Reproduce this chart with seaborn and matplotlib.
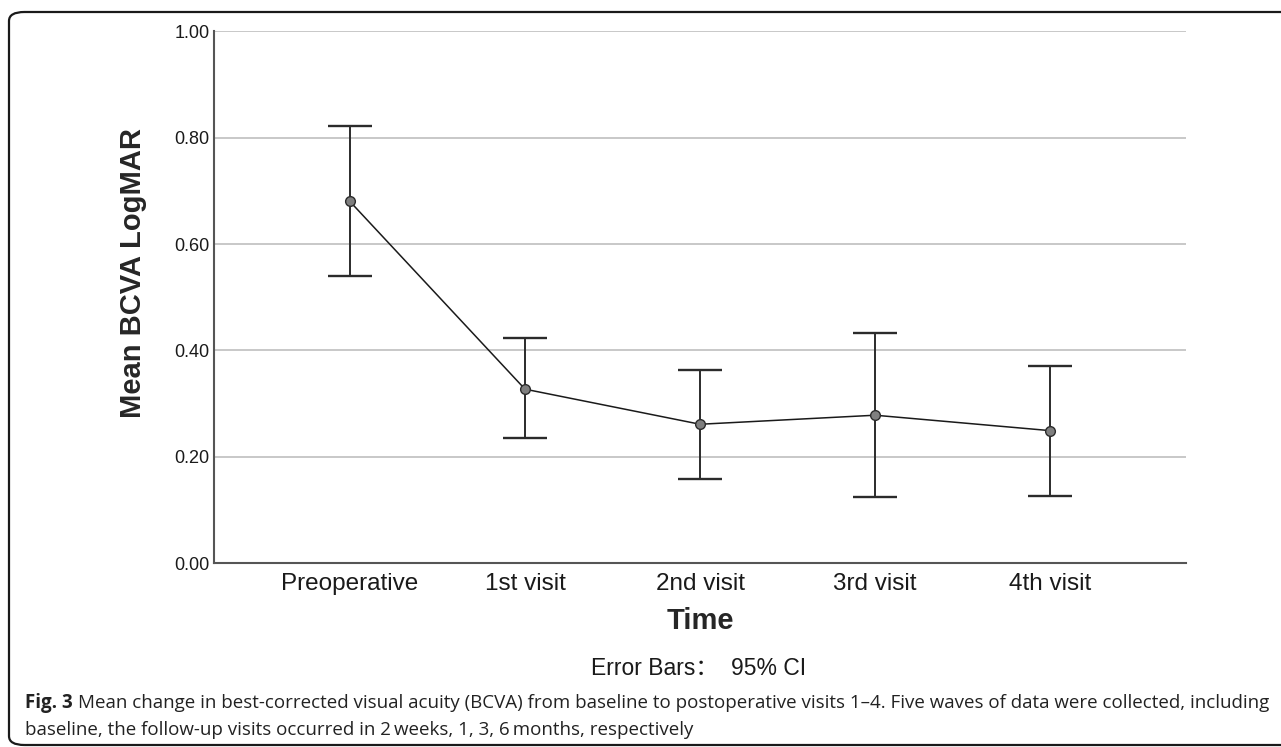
import numpy as np
import pandas as pd
import matplotlib
matplotlib.use("Agg")
import matplotlib.pyplot as plt
import seaborn as sns
from matplotlib.patches import FancyBboxPatch

# Duomenys (nuskaityta nuo grafiko)
visits = ["Preoperative", "1st visit", "2nd visit", "3rd visit", "4th visit"]
mean_logmar = [0.680, 0.327, 0.261, 0.278, 0.249]
ci_lower = [0.539, 0.235, 0.158, 0.124, 0.126]
ci_upper = [0.822, 0.423, 0.363, 0.433, 0.371]
y_ticks = [0.0, 0.2, 0.4, 0.6, 0.8, 1.0]

df = pd.DataFrame({"Time": visits, "BCVA": mean_logmar})

sns.set_theme(style="white")
plt.rcParams["font.family"] = ["Liberation Sans", "Noto Sans CJK SC", "DejaVu Sans"]

fig = plt.figure(figsize=(12.81, 7.47), dpi=100)
ax = fig.add_axes([0.167, 0.2463, 0.759, 0.7117])

# Linija ir taskai
sns.pointplot(data=df, x="Time", y="BCVA", ax=ax, color="#1a1a1a",
              markers="o", linestyles="-", errorbar=None, zorder=4)
for line in ax.lines:
    line.set_linewidth(1.1)
    line.set_markerfacecolor("#7f7f7f")
    line.set_markeredgecolor("#2b2b2b")
    line.set_markersize(7)
    line.set_markeredgewidth(1.0)

# Error bars (95% CI)
yerr = [np.array(mean_logmar) - np.array(ci_lower), np.array(ci_upper) - np.array(mean_logmar)]
ax.errorbar(range(len(visits)), mean_logmar, yerr=yerr, fmt="none",
            ecolor="#2b2b2b", elinewidth=1.4, capsize=15.5, capthick=1.7, zorder=3)

ax.set_xlim(-0.777, 4.777)
ax.set_ylim(0, 1.0)
ax.set_yticks(y_ticks)
ax.set_yticklabels([f"{t:.2f}" for t in y_ticks])
ax.yaxis.grid(True, color="#c4c4c4", linewidth=1.3)
ax.xaxis.grid(False)
ax.set_axisbelow(True)

for s in ["top", "right"]:
    ax.spines[s].set_visible(False)
for s in ["left", "bottom"]:
    ax.spines[s].set_color("#555555")
    ax.spines[s].set_linewidth(1.5)

ax.tick_params(axis="both", length=0, colors="#1a1a1a")
ax.tick_params(axis="y", labelsize=13, pad=3)
ax.tick_params(axis="x", labelsize=17.5, pad=7)

ax.set_xlabel("Time", fontsize=21, fontweight="bold", labelpad=9)
ax.set_ylabel("Mean BCVA LogMAR", fontsize=21, fontweight="bold")
ax.yaxis.set_label_coords(-0.069, 0.545)

fig.text(0.545, 0.105, "Error Bars：  95% CI", ha="center", va="center", fontsize=16.5,
         color="#1a1a1a", family=["Liberation Sans", "Noto Sans CJK SC", "DejaVu Sans"])

# Paveikslo paaiskinimas
cap_font = ["Open Sans", "DejaVu Sans"]
t1 = fig.text(0.0195, 0.059, "Fig. 3", ha="left", va="center", fontsize=13.5,
              fontweight="bold", color="#222222", family=cap_font)
fig.canvas.draw()
bb = t1.get_window_extent()
fig.text(bb.x1 / fig.bbox.width + 0.004, 0.059,
         "Mean change in best-corrected visual acuity (BCVA) from baseline to postoperative visits 1\u20134. "
         "Five waves of data were collected, including",
         ha="left", va="center", fontsize=13.5, color="#222222", family=cap_font)
fig.text(0.0195, 0.023,
         "baseline, the follow-up visits occurred in 2\u2009weeks, 1, 3, 6\u2009months, respectively",
         ha="left", va="center", fontsize=13.5, color="#222222", family=cap_font)

# Remelis
frame = FancyBboxPatch((9 / 1281, 2 / 747), 1.05, 733 / 747,
                       boxstyle="round,pad=0,rounding_size=0.012",
                       transform=fig.transFigure, fill=False,
                       edgecolor="#1a1a1a", linewidth=1.6, clip_on=False)
fig.patches.append(frame)

fig.savefig("out.png", dpi=100)
